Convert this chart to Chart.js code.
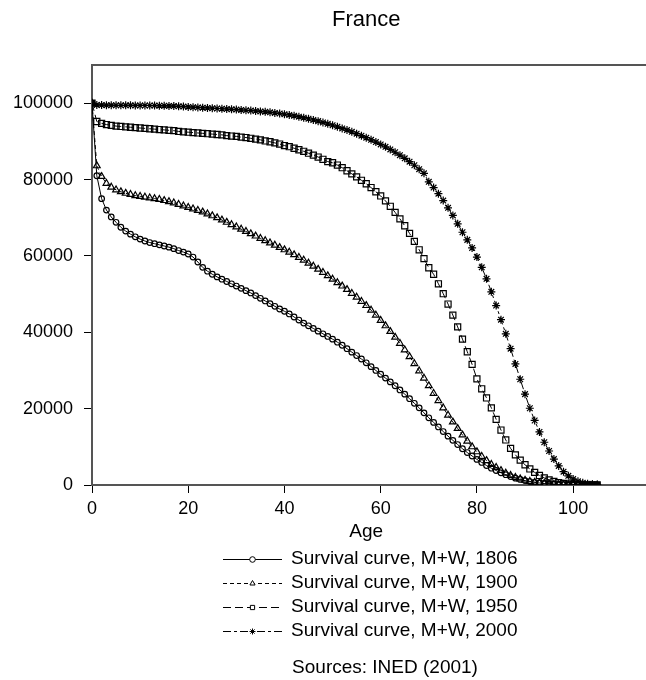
<!DOCTYPE html>
<html>
<head>
<meta charset="utf-8">
<script src="https://cdn.jsdelivr.net/npm/chart.js@4.4.1/dist/chart.umd.min.js"></script>
<style>
  html, body { margin: 0; padding: 0; background: #fff; }
  #wrap { width: 646px; height: 680px; }
</style>
</head>
<body>
<div id="wrap"><canvas id="chart" width="646" height="680"></canvas></div>
<script>
// ages 0..105 (one point per year)
const ages = [0,1,2,3,4,5,6,7,8,9,10,11,12,13,14,15,16,17,18,19,20,21,22,23,24,25,26,27,28,29,
  30,31,32,33,34,35,36,37,38,39,40,41,42,43,44,45,46,47,48,49,50,51,52,53,54,55,56,57,58,59,
  60,61,62,63,64,65,66,67,68,69,70,71,72,73,74,75,76,77,78,79,80,81,82,83,84,85,86,87,88,89,
  90,91,92,93,94,95,96,97,98,99,100,101,102,103,104,105];

const s1806 = [100000,81000,75000,72000,70200,68800,67500,66500,65700,65000,
  64400,63900,63500,63200,62900,62600,62300,61900,61400,61000,
  60500,59700,58400,57000,56000,55200,54500,53900,53300,52700,
  52100,51500,50900,50300,49600,48900,48200,47500,46800,46100,
  45500,44800,44000,43200,42400,41700,41000,40300,39600,38900,
  38200,37400,36600,35700,34800,33900,33000,32000,31000,30000,
  29000,28000,27000,26000,24900,23800,22600,21400,20200,18900,
  17600,16400,15200,14000,12800,11700,10600,9500,8500,7600,
  6700,5900,5100,4400,3800,3200,2700,2200,1800,1450,
  1150,900,700,530,400,290,210,150,100,70,
  45,30,18,10,5,2];

const s1900 = [100000,83600,80800,79000,78000,77300,76800,76400,76100,75800,
  75600,75400,75200,75000,74800,74500,74200,73900,73500,73100,
  72700,72300,71900,71500,71000,70500,70000,69400,68800,68200,
  67600,67000,66400,65800,65200,64600,64000,63400,62800,62200,
  61600,61000,60300,59600,58900,58100,57300,56500,55700,54800,
  53900,53000,52100,51200,50200,49200,48100,47000,45800,44500,
  43100,41700,40200,38700,37100,35400,33600,31800,29900,28000,
  26000,24000,22100,20200,18300,16500,14800,13100,11500,10000,
  8700,7500,6400,5400,4600,3800,3100,2500,2000,1600,
  1250,950,720,540,400,290,200,140,95,65,
  42,27,16,9,5,2];

const s1950 = [100000,95200,94700,94400,94200,94000,93900,93800,93700,93600,
  93500,93400,93300,93200,93100,93000,92900,92800,92600,92500,
  92400,92300,92200,92100,92000,91900,91800,91700,91500,91400,
  91300,91100,91000,90800,90600,90400,90100,89900,89600,89300,
  88900,88600,88200,87800,87400,86900,86400,85900,85300,84700,
  84400,83800,83100,82300,81500,80700,79800,78900,77900,76800,
  75700,74400,73000,71400,69700,67900,65900,63800,61600,59300,
  56900,55200,52700,50100,47400,44500,41400,38200,34900,31600,
  27800,25200,22800,20200,17200,14400,11800,9600,7900,6500,
  5300,4200,3300,2500,1850,1350,950,650,430,280,
  180,110,65,35,18,8];

const s2000 = [100000,99550,99510,99490,99470,99460,99450,99440,99430,99420,
  99410,99400,99390,99370,99350,99320,99280,99230,99170,99100,
  99030,98960,98890,98820,98750,98680,98610,98540,98470,98400,
  98320,98240,98150,98060,97960,97850,97730,97600,97460,97300,
  97120,96920,96700,96460,96200,95920,95620,95300,94960,94600,
  94220,93820,93400,92960,92500,92010,91500,90960,90400,89810,
  89200,88560,87880,87150,86380,85560,84680,83740,82720,81620,
  79400,77900,76300,74500,72600,70600,68400,66200,64200,62100,
  59700,57000,54000,50600,47000,43300,39600,35700,31700,27700,
  23800,20100,16900,13900,11200,8900,6800,5000,3500,2400,
  1550,950,560,320,170,90];

const seriesLabels = ["Survival curve, M+W, 1806", "Survival curve, M+W, 1900",
                      "Survival curve, M+W, 1950", "Survival curve, M+W, 2000"];
const xTicks = [0, 20, 40, 60, 80, 100];
const yTicks = [0, 20000, 40000, 60000, 80000, 100000];

const FONT = "'Liberation Sans', Arial, Helvetica, sans-serif";

function pts(values) {
  return ages.map((a, i) => ({ x: a, y: values[i] }));
}

const styles = [
  { pointStyle: 'circle',   radius: 2.8, dash: [] },
  { pointStyle: 'triangle', radius: 3.9, dash: [4, 3] },
  { pointStyle: 'rect',     radius: 4.3, dash: [8, 4] },
  { pointStyle: 'star',     radius: 4.0, dash: [8, 3, 3, 3] }
];

const datasets = [s1806, s1900, s1950, s2000].map((s, i) => ({
  label: seriesLabels[i],
  data: pts(s),
  borderColor: '#000',
  borderWidth: 1,
  borderDash: styles[i].dash,
  pointStyle: styles[i].pointStyle,
  pointRadius: styles[i].radius,
  pointBorderWidth: 1.2,
  pointBorderColor: '#000',
  pointBackgroundColor: 'rgba(0,0,0,0)',
  tension: 0
}));

// top frame line of the plot box, and the x axis carried to the right edge
const frameLines = {
  id: 'frameLines',
  afterDraw(chart) {
    const { ctx, chartArea } = chart;
    ctx.save();
    ctx.strokeStyle = '#555';
    ctx.lineWidth = 2;
    ctx.beginPath();
    ctx.moveTo(chartArea.left - 1, chartArea.top);
    ctx.lineTo(chart.width, chartArea.top);
    ctx.moveTo(chartArea.right - 1, chartArea.bottom);
    ctx.lineTo(chart.width, chartArea.bottom);
    ctx.stroke();
    ctx.restore();
  }
};

// legend below the axis, line sample with a marker in the middle + source note
const bottomLegend = {
  id: 'bottomLegend',
  afterDraw(chart) {
    const ctx = chart.ctx;
    const x1 = 223, x2 = 282, tx = 291, y0 = 559, step = 24;
    ctx.save();
    chart.data.datasets.forEach((ds, i) => {
      const y = y0 + i * step;
      ctx.strokeStyle = '#000';
      ctx.lineWidth = 1;
      ctx.setLineDash(ds.borderDash || []);
      ctx.beginPath();
      ctx.moveTo(x1, y + 0.5);
      ctx.lineTo(x2, y + 0.5);
      ctx.stroke();
      ctx.setLineDash([]);
      ctx.fillStyle = '#fff';
      Chart.helpers.drawPoint(ctx, {
        pointStyle: ds.pointStyle, rotation: 0,
        radius: Math.min(ds.pointRadius, 3), borderWidth: 1
      }, (x1 + x2) / 2, y + 0.5);
      ctx.fillStyle = '#000';
      ctx.font = '19px ' + FONT;
      ctx.textAlign = 'left';
      ctx.textBaseline = 'middle';
      ctx.fillText(ds.label, tx, y);
    });
    ctx.textAlign = 'center';
    ctx.fillText('Sources: INED (2001)', 385, 668);
    ctx.restore();
  }
};

new Chart(document.getElementById('chart'), {
  type: 'line',
  data: { datasets },
  plugins: [frameLines, bottomLegend],
  options: {
    responsive: false,
    devicePixelRatio: 1,
    animation: false,
    layout: { padding: { left: 0, right: 0, top: 0, bottom: 135 } },
    plugins: {
      legend: { display: false },
      tooltip: { enabled: false },
      title: {
        display: true,
        text: 'France',
        color: '#000',
        fullSize: false,
        font: { family: FONT, size: 22, weight: 'normal' },
        padding: { top: 7, bottom: 31.6 }
      }
    },
    scales: {
      x: {
        type: 'linear',
        min: 0,
        max: 114,
        afterBuildTicks: (scale) => { scale.ticks = xTicks.map(v => ({ value: v })); },
        afterFit: (scale) => { scale.height = 60; },
        grid: { drawOnChartArea: false, drawTicks: true, tickLength: 8, tickColor: '#000', tickWidth: 1 },
        border: { display: true, color: '#555', width: 2 },
        ticks: { color: '#000', font: { family: FONT, size: 18 }, padding: 5, maxRotation: 0, includeBounds: false },
        title: { display: true, text: 'Age', color: '#000', font: { family: FONT, size: 19 }, padding: { top: 0, bottom: 2 } }
      },
      y: {
        type: 'linear',
        min: 0,
        max: 110000,
        afterBuildTicks: (scale) => { scale.ticks = yTicks.map(v => ({ value: v })); },
        afterFit: (scale) => { scale.width = 92; },
        grid: { drawOnChartArea: false, drawTicks: true, tickLength: 8, tickColor: '#000', tickWidth: 1 },
        border: { display: true, color: '#555', width: 2 },
        ticks: { color: '#000', font: { family: FONT, size: 18 }, padding: 11, includeBounds: false,
                 callback: (v) => String(v) }
      }
    }
  }
});
</script>
</body>
</html>
